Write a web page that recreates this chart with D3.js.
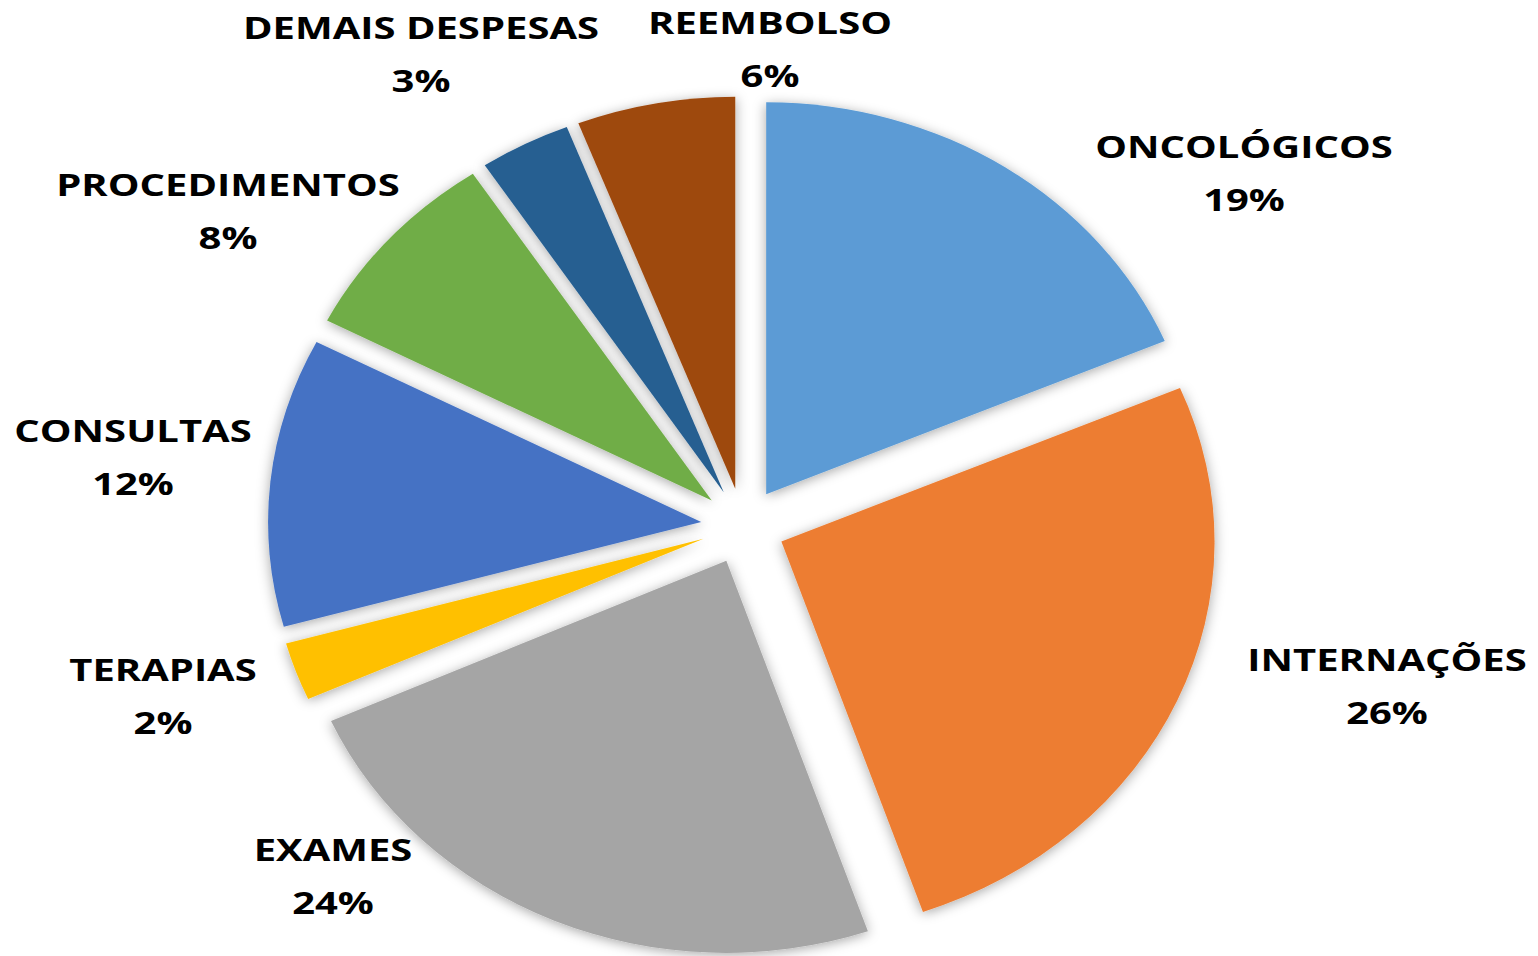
<!DOCTYPE html>
<html>
<head>
<meta charset="utf-8">
<script src="https://cdn.jsdelivr.net/npm/d3@7"></script>
<style>
  html, body { margin: 0; padding: 0; background: #fff; }
  svg { display: block; }
  text { font-family: "Open Sans", sans-serif; font-weight: 700; fill: #000; }
</style>
</head>
<body>
<svg id="chart" width="1538" height="956"></svg>
<script>
const categories = ["ONCOLÓGICOS", "INTERNAÇÕES", "EXAMES", "TERAPIAS", "CONSULTAS", "PROCEDIMENTOS", "DEMAIS DESPESAS", "REEMBOLSO"];
const values = [18.6, 26.1, 23.6, 2.4, 11.9, 8.1, 3.4, 5.9];
const colors = ["#5B9BD5", "#ED7D31", "#A5A5A5", "#FFC000", "#4472C4", "#70AD47", "#255E91", "#9E480E"];
// label anchor positions (center of the two-line label)
const labelPos = [[1244, 173], [1387, 686], [333, 876], [163, 696], [133, 457], [228, 211], [421, 54], [770, 49]];

const svg = d3.select("#chart");
const cx = 743, cy = 526, R = 392, explode = 38, sx = 1.105, textSx = 1.29;

const defs = svg.append("defs");
const f = defs.append("filter").attr("id", "shadow").attr("x", "-20%").attr("y", "-20%").attr("width", "140%").attr("height", "140%");
f.append("feDropShadow").attr("dx", 0).attr("dy", 2).attr("stdDeviation", 6).attr("flood-color", "#000").attr("flood-opacity", 0.35);

const data = categories.map((c, i) => ({ cat: c, value: values[i], color: colors[i], lp: labelPos[i] }));
const pie = d3.pie().sort(null).value(d => d.value).startAngle(0).endAngle(2 * Math.PI);
const arc = d3.arc().innerRadius(0).outerRadius(R);
const arcs = pie(data);

const g = svg.append("g").attr("transform", `translate(${cx},${cy}) scale(${sx},1)`);
g.selectAll("path").data(arcs).join("path")
  .attr("d", arc)
  .attr("fill", d => d.data.color)
  .attr("filter", "url(#shadow)")
  .attr("transform", d => {
    const a = (d.startAngle + d.endAngle) / 2;
    return `translate(${explode * Math.sin(a)},${-explode * Math.cos(a)})`;
  });

const total = d3.sum(values);
const lab = svg.append("g");
data.forEach(d => {
  const t = lab.append("text")
    .attr("text-anchor", "middle")
    .attr("font-size", 31)
    .attr("transform", `translate(${d.lp[0]},${d.lp[1]}) scale(${textSx},1)`);
  t.append("tspan").attr("x", 0).attr("y", -26).attr("dy", "0.35em").text(d.cat);
  t.append("tspan").attr("x", 0).attr("y", 27).attr("dy", "0.35em").text(Math.round(d.value / total * 100) + "%");
});
</script>
</body>
</html>
